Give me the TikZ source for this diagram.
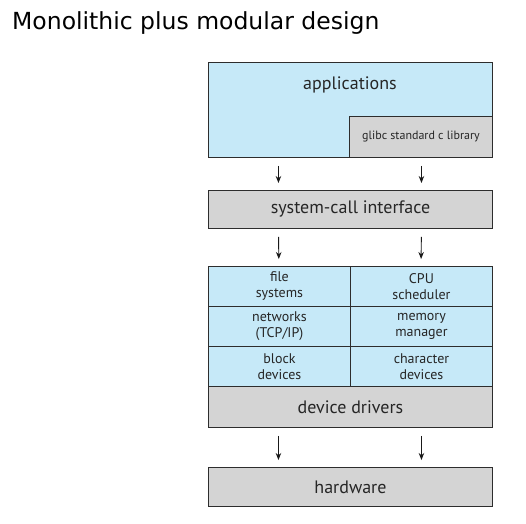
\documentclass[tikz,border=0pt]{standalone}
\usepackage{fontspec}
\setmainfont{PT Sans}
\newfontfamily\titlefont{DejaVu Sans}
\usetikzlibrary{arrows.meta}
\definecolor{kblue}{RGB}{198,233,248}
\definecolor{kgray}{RGB}{212,212,212}
\definecolor{kline}{RGB}{45,45,45}
\tikzset{
  layer/.style={draw=kline, line width=0.9pt, inner sep=0pt, align=center, text=black!85},
  wide/.style={layer, minimum width=284pt, minimum height=#1, font=\fontsize{18}{20}\selectfont},
  cell/.style={layer, fill=kblue, minimum width=142pt, minimum height=40pt, font=\fontsize{14}{16}\selectfont},
  flow/.style={-{Stealth[length=7pt,width=5.5pt]}, line width=0.9pt, black!90,
    shorten <=8pt, shorten >=7pt}
}
\begin{document}
\begin{tikzpicture}[x=1pt,y=-1pt]
  \useasboundingbox (0,0) rectangle (526,523);
  \node [anchor=base west, inner sep=0pt, font=\titlefont\fontsize{23.5}{26}\selectfont] (title) at (12,29)
    {Monolithic plus modular design};
  % user level
  \node [wide=95pt, fill=kblue, anchor=north west] (apps) at (208,62) {};
  \node [layer, fill=kgray, anchor=south east, minimum width=143pt, minimum height=41pt,
    font=\fontsize{12}{14}\selectfont] (glibc) at (apps.south east) {glibc standard c library};
  \node [font=\fontsize{18}{20}\selectfont, text=black!85] (appstxt) at (350,85) {applications};
  \node [wide=38pt, fill=kgray, anchor=north west] (sci) at (208,190) {system-call interface};
  \draw [flow] ([xshift=-72pt]apps.south) -- ([xshift=-72pt]sci.north);
  \draw [flow] ([xshift=71pt]apps.south) -- ([xshift=71pt]sci.north);
  % kernel
  \node [cell, anchor=north west] (fs)  at (208,266) {file\\systems};
  \node [cell, anchor=north west] (cpu) at (350,266) {CPU\\scheduler};
  \node [cell, anchor=north west] (net) at (208,306) {networks\\(TCP/IP)};
  \node [cell, anchor=north west] (mem) at (350,306) {memory\\manager};
  \node [cell, anchor=north west] (blk) at (208,346) {block\\devices};
  \node [cell, anchor=north west] (chr) at (350,346) {character\\devices};
  \node [wide=41pt, fill=kgray, anchor=north west] (dd) at (208,386) {device drivers};
  \draw [flow] ([xshift=-72pt]sci.south) -- ([xshift=-72pt]fs.north east);
  \draw [flow] ([xshift=71pt]sci.south) -- ([xshift=71pt]cpu.north west);
  % hardware
  \node [wide=39pt, fill=kgray, anchor=north west] (hw) at (208,467) {hardware};
  \draw [flow] ([xshift=-72pt]dd.south) -- ([xshift=-72pt]hw.north);
  \draw [flow] ([xshift=71pt]dd.south) -- ([xshift=71pt]hw.north);
\end{tikzpicture}
\end{document}
